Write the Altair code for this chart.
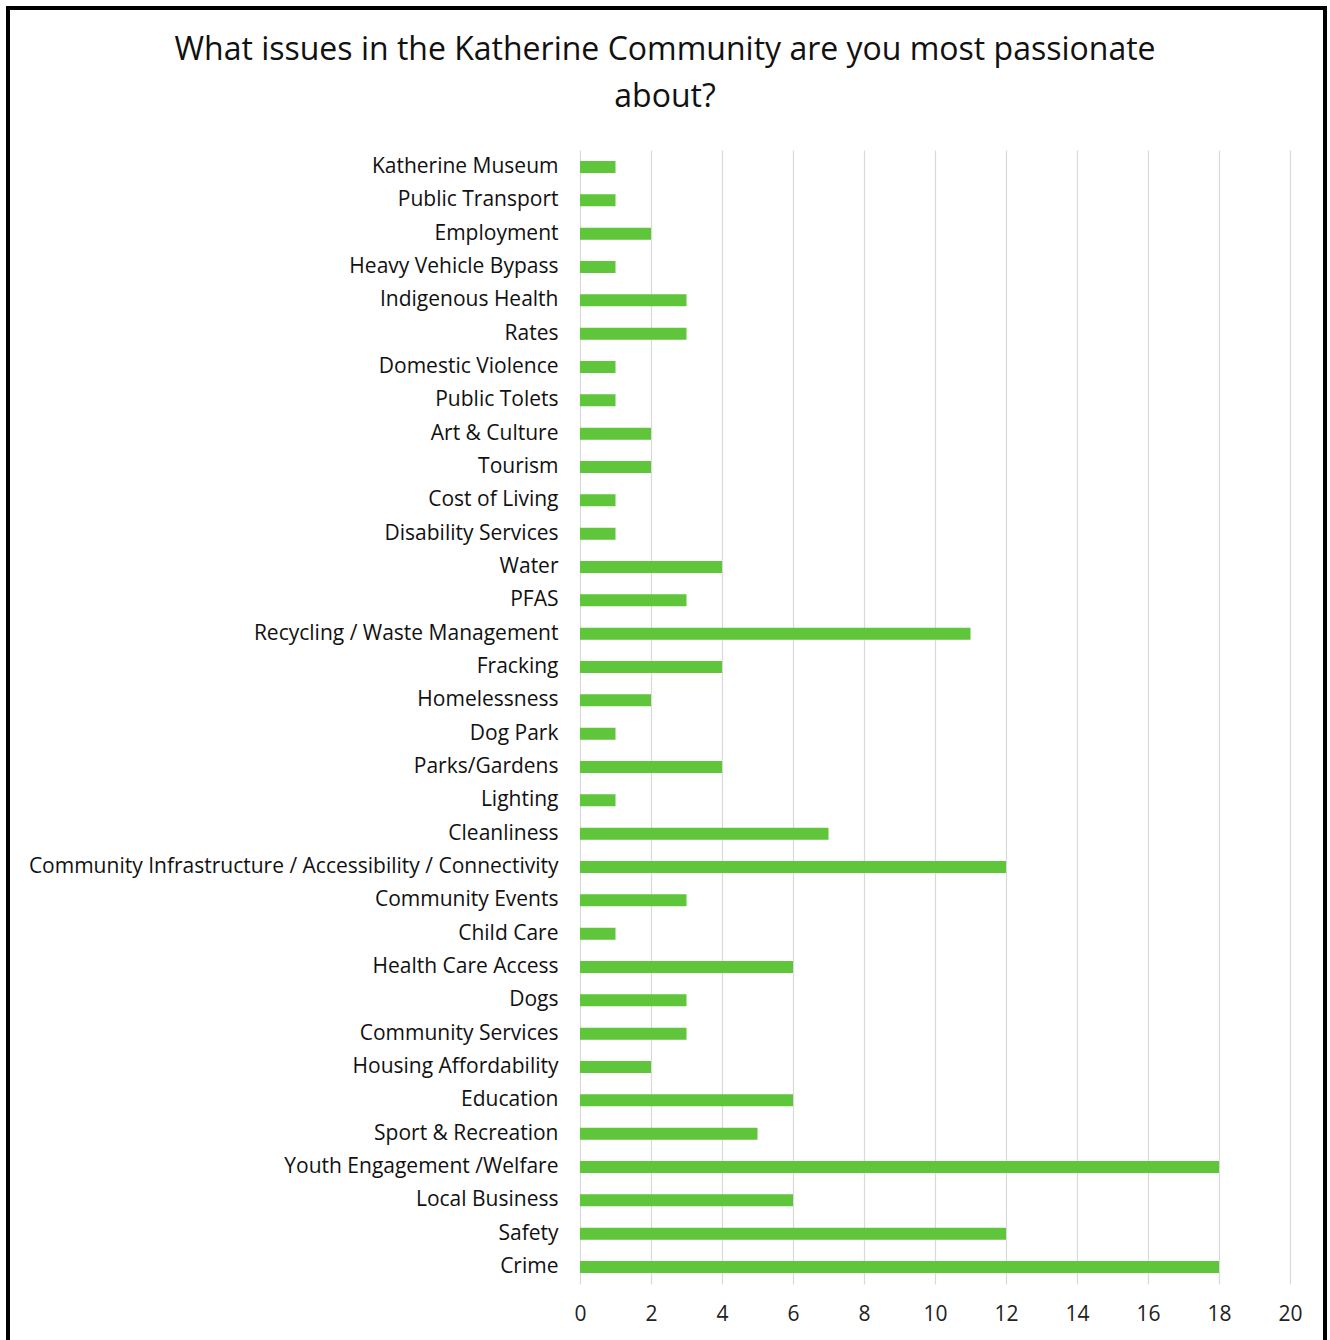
import altair as alt
import pandas as pd

categories = [
    "Katherine Museum", "Public Transport", "Employment", "Heavy Vehicle Bypass",
    "Indigenous Health", "Rates", "Domestic Violence", "Public Tolets",
    "Art & Culture", "Tourism", "Cost of Living", "Disability Services",
    "Water", "PFAS", "Recycling / Waste Management", "Fracking",
    "Homelessness", "Dog Park", "Parks/Gardens", "Lighting", "Cleanliness",
    "Community Infrastructure / Accessibility / Connectivity",
    "Community Events", "Child Care", "Health Care Access", "Dogs",
    "Community Services", "Housing Affordability", "Education",
    "Sport & Recreation", "Youth Engagement /Welfare", "Local Business",
    "Safety", "Crime",
]
values = [1, 1, 2, 1, 3, 3, 1, 1, 2, 2, 1, 1, 4, 3, 11, 4, 2, 1, 4, 1, 7, 12,
          3, 1, 6, 3, 3, 2, 6, 5, 18, 6, 12, 18]
x_ticks = [0, 2, 4, 6, 8, 10, 12, 14, 16, 18, 20]
title_lines = ["What issues in the Katherine Community are you most passionate",
               "about?"]

df = pd.DataFrame({"issue": categories, "count": values})
tdf = pd.DataFrame({"line": title_lines})

FONT = "Open Sans"

bars = alt.Chart(df).mark_bar(color="#5FC53A").encode(
    x=alt.X("count:Q",
            scale=alt.Scale(domain=[0, 20], nice=False),
            axis=alt.Axis(values=x_ticks, title=None, grid=True,
                          gridColor="#d9d9d9", gridWidth=1.2,
                          domain=False, ticks=False, labelFlush=False,
                          labelFontSize=21, labelPadding=19,
                          labelColor="#222", labelFont=FONT)),
    y=alt.Y("issue:N", sort=categories,
            scale=alt.Scale(paddingInner=0.64, paddingOuter=0.33),
            axis=alt.Axis(title=None, domain=False, ticks=False,
                          labelFontSize=21, labelPadding=22,
                          labelColor="#111", labelFont=FONT,
                          labelLimit=0)),
)

title1 = alt.Chart(tdf.iloc[[0]]).mark_text(
    fontSize=32, font=FONT, color="#111", align="center", baseline="middle"
).encode(text="line:N", x=alt.value(85), y=alt.value(-100))

title2 = alt.Chart(tdf.iloc[[1]]).mark_text(
    fontSize=32, font=FONT, color="#111", align="center", baseline="middle"
).encode(text="line:N", x=alt.value(85), y=alt.value(-53))

border = alt.Chart(df).mark_rect(fill=None, stroke="black", strokeWidth=4,
                                 clip=False).encode(
    x=alt.value(-572), x2=alt.value(745),
    y=alt.value(-142), y2=alt.value(1196),
)

chart = alt.layer(bars, title1, title2, border).properties(
    width=710,
    height=1134,
    padding={"left": 580, "top": 150, "right": 40, "bottom": 56},
    autosize=alt.AutoSizeParams(type="none"),
    background="white",
).configure_view(stroke=None)

chart.save("out.html", embed_options={"renderer": "svg", "actions": False})
